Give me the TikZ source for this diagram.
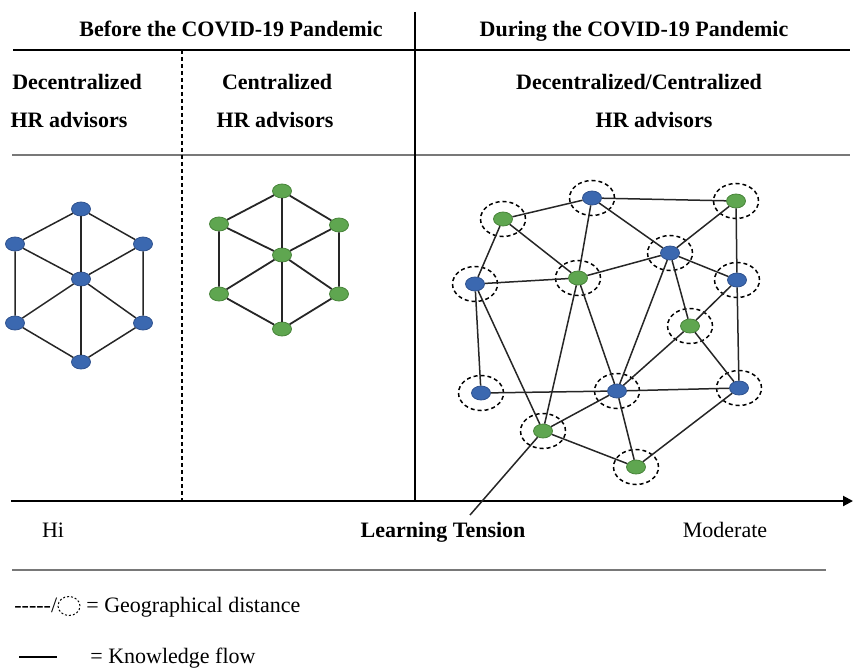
\documentclass[tikz,border=0pt]{standalone}
\usepackage{fontspec}
\setmainfont{Liberation Serif}
\usetikzlibrary{calc}
\usetikzlibrary{arrows.meta}
\usetikzlibrary{shapes.geometric}

\definecolor{advblue}{RGB}{59,104,176}
\definecolor{advblueline}{RGB}{47,82,143}
\definecolor{advgreen}{RGB}{95,166,80}
\definecolor{advgreenline}{RGB}{72,132,58}
\definecolor{rulegray}{RGB}{120,120,120}

\tikzset{
    blue adv/.style={ellipse, draw=advblueline, fill=advblue, line width=0.4pt,
        minimum width=9.5pt, minimum height=7pt, inner sep=0pt},
    green adv/.style={ellipse, draw=advgreenline, fill=advgreen, line width=0.4pt,
        minimum width=9.5pt, minimum height=7pt, inner sep=0pt},
    geo ring/.style={ellipse, draw, line width=0.75pt, dash pattern=on 2pt off 1.5pt,
        minimum width=22.5pt, minimum height=17.5pt, inner sep=0pt},
    flow/.style={line width=0.75pt, black!85},
    head/.style={anchor=base, font=\fontsize{11}{13}\selectfont\bfseries},
    plain text/.style={anchor=base, font=\fontsize{11}{13}\selectfont},
}

\begin{document}
\begin{tikzpicture}[x=0.5pt, y=-0.5pt]
            \useasboundingbox (0, 0) rectangle (854, 668);
            \coordinate (top left) at (13, 50);
            \coordinate (top right) at (850, 50);
            \coordinate (mid left) at (12, 155);
            \coordinate (mid right) at (850, 155);
            \coordinate (split top) at (415, 12);
            \coordinate (split bottom) at (415, 501);
            \coordinate (dash top) at (182, 50);
            \coordinate (dash bottom) at (182, 501);
            \coordinate (axis start) at (11, 501);
            \coordinate (axis end) at (853, 501);
            \coordinate (foot left) at (12, 570);
            \coordinate (foot right) at (826, 570);
            \draw[line width=0.6pt] (top left) -- (top right);
            \draw[rulegray, line width=1pt] (mid left) -- (mid right);
            \draw[line width=0.6pt] (split top) -- (split bottom);
            \draw[line width=0.6pt, dash pattern=on 2pt off 1.5pt] (dash top) -- (dash bottom);
            \draw[line width=1pt, -{Triangle[length=5pt, width=5pt]}] (axis start) -- (axis end);
            \draw[rulegray, line width=0.6pt] (foot left) -- (foot right);
            \node[head] (before) at (231, 37) {Before the COVID-19 Pandemic};
            \node[head] (during) at (634, 37) {During the COVID-19 Pandemic};
            \node[head] (dec title) at (77, 90) {Decentralized};
            \node[head] (dec hr) at (69, 128) {HR advisors};
            \node[head] (cen title) at (277, 90) {Centralized};
            \node[head] (cen hr) at (275, 128) {HR advisors};
            \node[head] (mix title) at (639, 90) {Decentralized/Centralized};
            \node[head] (mix hr) at (654, 128) {HR advisors};
            \node[blue adv] (dec t) at (81, 209) {};
            \node[blue adv] (dec ul) at (15, 244) {};
            \node[blue adv] (dec ur) at (143, 244) {};
            \node[blue adv] (dec c) at (81, 279) {};
            \node[blue adv] (dec ll) at (15, 323) {};
            \node[blue adv] (dec lr) at (143, 323) {};
            \node[blue adv] (dec b) at (81, 362) {};
            \draw[flow] (dec t) -- (dec ul) -- (dec ll) -- (dec b) -- (dec lr) -- (dec ur) -- (dec t);
            \draw[flow] (dec t) -- (dec c) -- (dec b);
            \draw[flow] (dec ul) -- (dec c) -- (dec lr);
            \draw[flow] (dec ur) -- (dec c) -- (dec ll);
            \node[green adv] (cen t) at (282, 191) {};
            \node[green adv] (cen ul) at (219, 224) {};
            \node[green adv] (cen ur) at (339, 225) {};
            \node[green adv] (cen c) at (282, 255) {};
            \node[green adv] (cen ll) at (219, 294) {};
            \node[green adv] (cen lr) at (339, 294) {};
            \node[green adv] (cen b) at (282, 329) {};
            \draw[flow, line width=0.9pt] (cen t) -- (cen ul) -- (cen ll) -- (cen b) -- (cen lr) -- (cen ur) -- (cen t);
            \draw[flow, line width=0.9pt] (cen t) -- (cen c) -- (cen b);
            \draw[flow, line width=0.9pt] (cen ul) -- (cen c) -- (cen lr);
            \draw[flow, line width=0.9pt] (cen ur) -- (cen c) -- (cen ll);
            \coordinate (hr 1) at (592, 198);
            \coordinate (hr 2) at (503, 219);
            \coordinate (hr 3) at (736, 201);
            \coordinate (hr 4) at (670, 253);
            \coordinate (hr 5) at (578, 278);
            \coordinate (hr 6) at (475, 284);
            \coordinate (hr 7) at (737, 280);
            \coordinate (hr 8) at (690, 326);
            \coordinate (hr 9) at (481, 393);
            \coordinate (hr 10) at (617, 391);
            \coordinate (hr 11) at (739, 388);
            \coordinate (hr 12) at (543, 431);
            \coordinate (hr 13) at (636, 467);
            \foreach \n in {1,...,13}
                \node[geo ring] (ring \n) at (hr \n) {};
            \node[blue adv] (n1) at (hr 1) {};
            \node[green adv] (n2) at (hr 2) {};
            \node[green adv] (n3) at (hr 3) {};
            \node[blue adv] (n4) at (hr 4) {};
            \node[green adv] (n5) at (hr 5) {};
            \node[blue adv] (n6) at (hr 6) {};
            \node[blue adv] (n7) at (hr 7) {};
            \node[green adv] (n8) at (hr 8) {};
            \node[blue adv] (n9) at (hr 9) {};
            \node[blue adv] (n10) at (hr 10) {};
            \node[blue adv] (n11) at (hr 11) {};
            \node[green adv] (n12) at (hr 12) {};
            \node[green adv] (n13) at (hr 13) {};
            \draw[flow] (n1) -- (n2);
            \draw[flow] (n1) -- (n3);
            \draw[flow] (n1) -- (n5);
            \draw[flow] (n1) -- (n4);
            \draw[flow] (n3) -- (n4);
            \draw[flow] (n3) -- (n7);
            \draw[flow] (n2) -- (n6);
            \draw[flow] (n2) -- (n5);
            \draw[flow] (n6) -- (n5);
            \draw[flow] (n5) -- (n4);
            \draw[flow] (n4) -- (n7);
            \draw[flow] (n4) -- (n10);
            \draw[flow] (n4) -- (n8);
            \draw[flow] (n7) -- (n8);
            \draw[flow] (n7) -- (n11);
            \draw[flow] (n8) -- (n10);
            \draw[flow] (n8) -- (n11);
            \draw[flow] (n6) -- (n9);
            \draw[flow] (n6) -- (n12);
            \draw[flow] (n5) -- (n12);
            \draw[flow] (n5) -- (n10);
            \draw[flow] (n9) -- (n10);
            \draw[flow] (n10) -- (n11);
            \draw[flow] (n10) -- (n12);
            \draw[flow] (n10) -- (n13);
            \draw[flow] (n12) -- (n13);
            \draw[flow] (n11) -- (n13);
            \coordinate (tension tip) at (470, 515);
            \draw[flow] (n12) -- (tension tip);
            \node[plain text] (hi) at (53, 537) {Hi};
            \node[head] (tension) at (443, 537) {Learning Tension};
            \node[plain text] (moderate) at (725, 537) {Moderate};
            \node[plain text, anchor=base west, inner xsep=0pt] (geo dashes) at (14, 612) {-{}-{}-{}-{}-/};
            \node[ellipse, draw, line width=0.5pt, dash pattern=on 1pt off 1pt,
                minimum width=11pt, minimum height=9.5pt, inner sep=0pt] (geo key) at (69, 606) {};
            \node[plain text, anchor=base west, inner xsep=0pt] (geo text) at (86, 612) {= Geographical distance};
            \coordinate (flow a) at (19, 657);
            \coordinate (flow b) at (57, 657);
            \draw[line width=1pt] (flow a) -- (flow b);
            \node[plain text, anchor=base west, inner xsep=0pt] (flow text) at (90, 663) {= Knowledge flow};
        \end{tikzpicture}
\end{document}
